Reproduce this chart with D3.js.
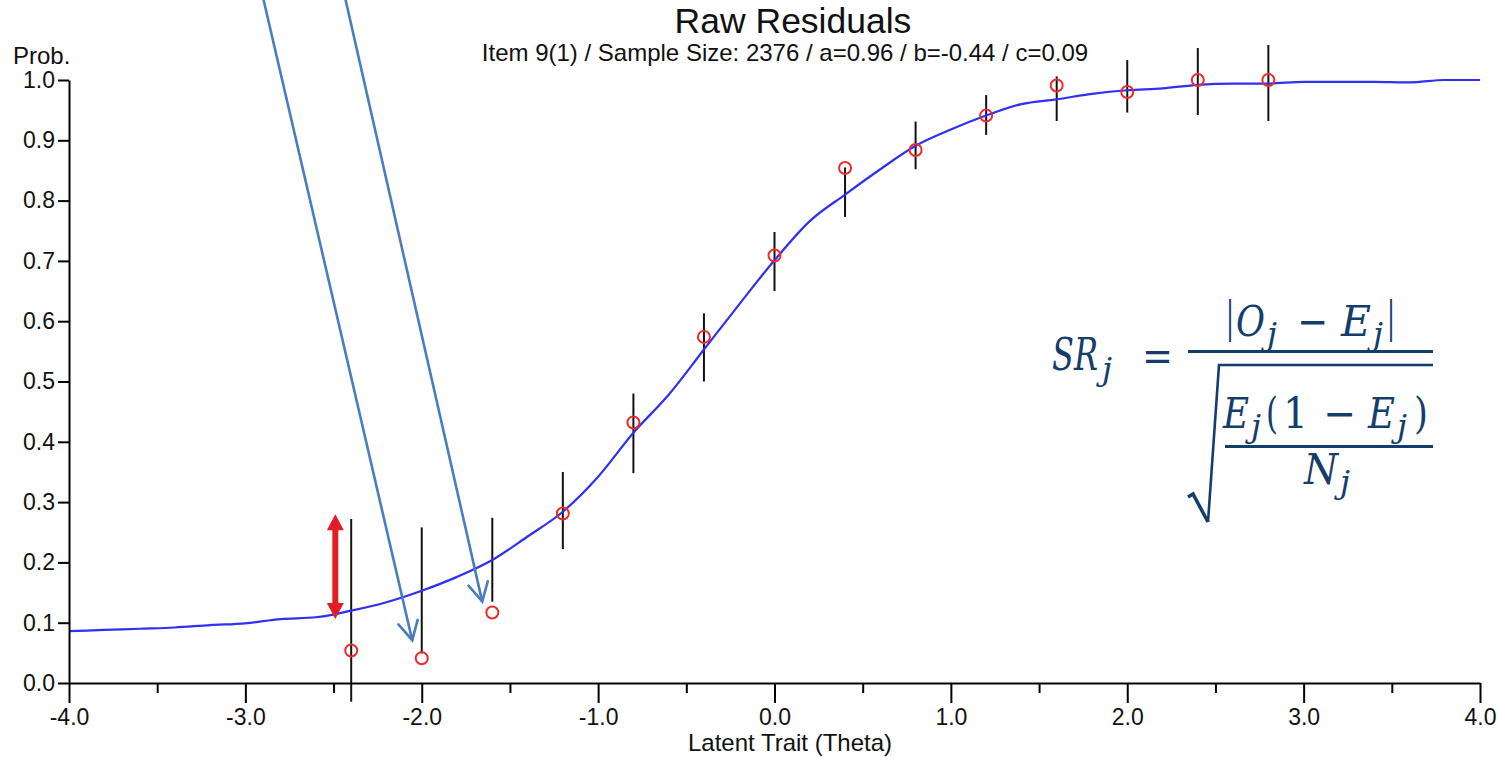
<!DOCTYPE html>
<html><head><meta charset="utf-8">
<script src="https://cdn.jsdelivr.net/npm/d3@7"></script>
<style>body{margin:0;background:#fff;} svg{display:block;}</style>
</head><body>
<svg id="chart" width="1502" height="757"></svg>
<script>
// ---- data ----
const curveTheta = [-4.0,-3.8,-3.6,-3.4,-3.2,-3.0,-2.8,-2.6,-2.4,-2.2,-2.0,-1.8,-1.6,-1.4,-1.2,-1.0,-0.8,-0.6,-0.4,-0.2,0.0,0.2,0.4,0.6,0.8,1.0,1.2,1.4,1.6,1.8,2.0,2.2,2.4,2.6,2.8,3.0,3.2,3.4,3.6,3.8,4.0];
const curveProb  = [0.086,0.088,0.090,0.092,0.096,0.099,0.106,0.109,0.120,0.134,0.153,0.176,0.204,0.243,0.284,0.342,0.415,0.478,0.553,0.628,0.701,0.766,0.810,0.852,0.891,0.918,0.941,0.960,0.968,0.977,0.983,0.986,0.992,0.994,0.994,0.997,0.997,0.997,0.996,1.000,1.000];
const pointTheta   = [-2.4,-2.0,-1.6,-1.2,-0.8,-0.4,0.0,0.4,0.8,1.2,1.6,2.0,2.4,2.8];
const observedProb = [0.054,0.041,0.117,0.281,0.432,0.574,0.709,0.854,0.884,0.941,0.991,0.980,1.000,1.000];
const barLow  = [-0.031,0.049,0.135,0.222,0.348,0.500,0.650,0.773,0.852,0.909,0.932,0.946,0.942,0.932];
const barHigh = [0.272,0.258,0.274,0.350,0.480,0.613,0.748,0.855,0.931,0.975,1.006,1.033,1.053,1.058];
const xMajor = [-4,-3,-2,-1,0,1,2,3,4];
const xTickLabels = ["-4.0","-3.0","-2.0","-1.0","0.0","1.0","2.0","3.0","4.0"];
const xMinor = [-3.5,-2.5,-1.5,-0.5,0.5,1.5,2.5,3.5];
const yTicks = [0,0.1,0.2,0.3,0.4,0.5,0.6,0.7,0.8,0.9,1.0];
const yTickLabels = ["0.0","0.1","0.2","0.3","0.4","0.5","0.6","0.7","0.8","0.9","1.0"];
// annotation arrows (data coordinates)
const blueArrows = [
  {from:[-2.897,1.133], to:[-2.054,0.071]},
  {from:[-2.432,1.133], to:[-1.657,0.135]}
];
const redArrow = {theta:-2.49, top:0.280, bottom:0.106};

// ---- chart ----
const W=1502,H=757;
const svg=d3.select('#chart');
svg.append('rect').attr('width',W).attr('height',H).attr('fill','#fff');
const x=d3.scaleLinear().domain([-4,4]).range([69,1480]);
const y=d3.scaleLinear().domain([0,1]).range([683,80]);
const FONT='"Liberation Sans", Arial, sans-serif';

// error bars
svg.append('g').selectAll('line').data(pointTheta).join('line')
  .attr('x1',d=>x(d)).attr('x2',d=>x(d))
  .attr('y1',(d,i)=>y(barLow[i])).attr('y2',(d,i)=>y(barHigh[i]))
  .attr('stroke','#111').attr('stroke-width',2);

// curve
const line=d3.line().x(d=>x(d[0])).y(d=>y(d[1])).curve(d3.curveMonotoneX);
svg.append('path').datum(curveTheta.map((t,i)=>[t,curveProb[i]]))
  .attr('d',line).attr('fill','none').attr('stroke','#3030f4').attr('stroke-width',2.2);

// observed points
svg.append('g').selectAll('circle').data(pointTheta).join('circle')
  .attr('cx',d=>x(d)).attr('cy',(d,i)=>y(observedProb[i])).attr('r',6)
  .attr('fill','none').attr('stroke','#f02a2a').attr('stroke-width',2);

// axes
const gxMinor=svg.append('g').attr('transform','translate(0,683)')
  .call(d3.axisBottom(x).tickValues(xMinor).tickSize(10).tickSizeOuter(0).tickFormat(''));
gxMinor.select('.domain').remove();
const gx=svg.append('g').attr('transform','translate(0,683)')
  .call(d3.axisBottom(x).tickValues(xMajor).tickSize(20).tickSizeOuter(0).tickPadding(6)
    .tickFormat((d,i)=>xTickLabels[i]));
const gy=svg.append('g').attr('transform','translate(69,0)')
  .call(d3.axisLeft(y).tickValues(yTicks).tickSize(11).tickSizeOuter(0).tickPadding(3)
    .tickFormat((d,i)=>yTickLabels[i]));
[gx,gy,gxMinor].forEach(g=>{
  g.selectAll('.domain').attr('stroke','#000').attr('stroke-width',2);
  g.selectAll('.tick line').attr('stroke','#000').attr('stroke-width',2);
  g.selectAll('text').attr('font-family',FONT).attr('font-size',23).attr('fill','#111');
});

// titles
svg.append('text').attr('x',793).attr('y',33).attr('text-anchor','middle')
  .attr('font-family',FONT).attr('font-size',35.5).attr('fill','#111').text('Raw Residuals');
svg.append('text').attr('x',785).attr('y',61).attr('text-anchor','middle')
  .attr('font-family',FONT).attr('font-size',24).attr('fill','#111')
  .text('Item 9(1) / Sample Size: 2376 / a=0.96 / b=-0.44 / c=0.09');
svg.append('text').attr('x',13).attr('y',64)
  .attr('font-family',FONT).attr('font-size',24).attr('fill','#111').text('Prob.');
svg.append('text').attr('x',790).attr('y',751).attr('text-anchor','middle')
  .attr('font-family',FONT).attr('font-size',24).attr('fill','#111').text('Latent Trait (Theta)');

// blue arrows
const arrowColor='#4a7dbd';
blueArrows.forEach(a=>{
  const sx=x(a.from[0]), sy=y(a.from[1]), tx=x(a.to[0]), ty=y(a.to[1]);
  svg.append('line').attr('x1',sx).attr('y1',sy).attr('x2',tx).attr('y2',ty)
    .attr('stroke',arrowColor).attr('stroke-width',2.6);
  const ang=Math.atan2(sy-ty,sx-tx), L=21, h=28*Math.PI/180;
  const p1=[tx+L*Math.cos(ang+h), ty+L*Math.sin(ang+h)];
  const p2=[tx+L*Math.cos(ang-h), ty+L*Math.sin(ang-h)];
  svg.append('path').attr('d',`M${p1[0]},${p1[1]}L${tx},${ty}L${p2[0]},${p2[1]}`)
    .attr('fill','none').attr('stroke',arrowColor).attr('stroke-width',2.6)
    .attr('stroke-linejoin','miter').attr('stroke-linecap','round');
});

// red double arrow
{
  const rx=x(redArrow.theta), ry1=y(redArrow.top), ry2=y(redArrow.bottom), hh=16, hw=8.5;
  const red='#e31d25';
  svg.append('line').attr('x1',rx).attr('x2',rx).attr('y1',ry1+hh-2).attr('y2',ry2-hh+2)
    .attr('stroke',red).attr('stroke-width',6);
  svg.append('path').attr('d',`M${rx},${ry1}L${rx+hw},${ry1+hh}L${rx-hw},${ry1+hh}Z`).attr('fill',red);
  svg.append('path').attr('d',`M${rx},${ry2}L${rx+hw},${ry2-hh}L${rx-hw},${ry2-hh}Z`).attr('fill',red);
}

// formula glyphs [text, x, width, baseline, size, style]; each glyph is scaled horizontally to its width
const fc='#143d6c';
const MF='"DejaVu Serif", "Liberation Serif", serif';
const formulaGlyphs=[
  ['SR',1052,46,370,45,'italic'],['j',1102,10,380,32,'italic'],['=',1142,31,371,42,'normal'],
  ['|',1226,8,332,42,'normal'],['O',1236,29,336,43,'italic'],['j',1267,10,345,32,'italic'],
  ['−',1297,31,336,42,'normal'],['E',1341,30,336,43,'italic'],['j',1373,10,345,32,'italic'],
  ['|',1387,8,332,42,'normal'],
  ['E',1223,26,428,43,'italic'],['j',1251,10,437,32,'italic'],['(',1266,12,428,42,'normal'],
  ['1',1283,25,428,42,'normal'],['−',1323,33,428,42,'normal'],['E',1368,27,428,43,'italic'],
  ['j',1397,10,437,32,'italic'],[')',1414,14,428,42,'normal'],
  ['N',1304,34,484,43,'italic'],['j',1340,10,493,32,'italic']
];
formulaGlyphs.forEach(g=>{
  const t=svg.append('text').attr('x',0).attr('y',0).attr('font-family',MF)
    .attr('font-size',g[4]).attr('font-style',g[5]).attr('fill',fc).text(g[0]);
  const nat=t.node().getComputedTextLength()||g[2];
  t.attr('transform',`translate(${g[1]},${g[3]}) scale(${g[2]/nat},1)`);
});
svg.append('line').attr('x1',1188).attr('x2',1433).attr('y1',351.5).attr('y2',351.5).attr('stroke',fc).attr('stroke-width',3);
svg.append('line').attr('x1',1225).attr('x2',1433).attr('y1',446.5).attr('y2',446.5).attr('stroke',fc).attr('stroke-width',3);
svg.append('path').attr('d','M1188,497L1193,494L1208,522').attr('fill','none').attr('stroke',fc).attr('stroke-width',3.5);
svg.append('path').attr('d','M1208,522L1219,365L1433,365').attr('fill','none').attr('stroke',fc).attr('stroke-width',2.6);
</script>
</body></html>
